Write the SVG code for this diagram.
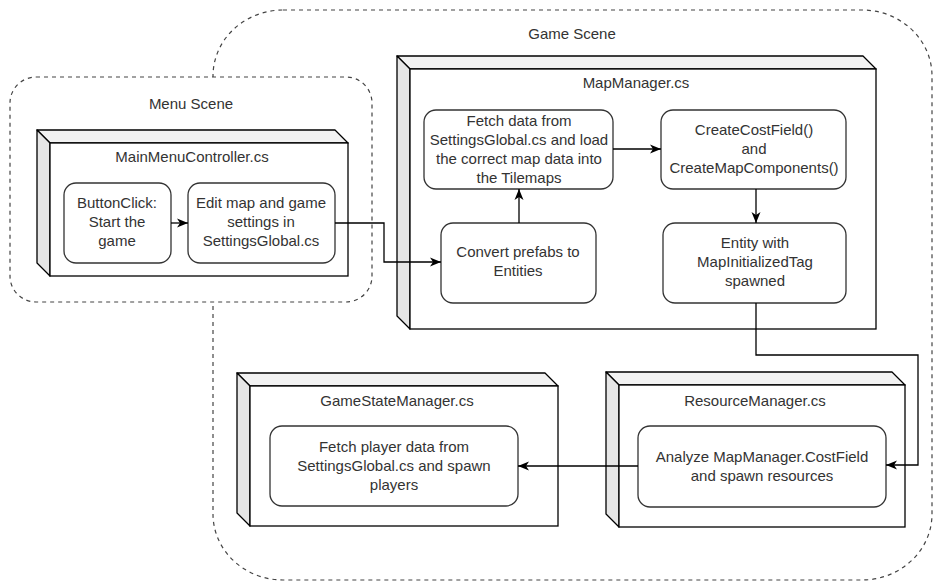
<svg xmlns="http://www.w3.org/2000/svg" width="934" height="583" viewBox="0 0 934 583">
  <defs>
    <marker id="arrow" markerUnits="userSpaceOnUse" markerWidth="12" markerHeight="10" refX="11" refY="5" orient="auto">
      <path d="M0,0.5 L11,5 L0,9.5 L3,5 Z" fill="#000"/>
    </marker>
  </defs>
  <style>
    text { font-family: "Liberation Sans", Arial, sans-serif; font-size: 15px; fill: #333; text-anchor: middle; }
    .scene { fill: #fff; stroke: #444; stroke-width: 1.2; stroke-dasharray: 4 4; }
    .top { fill: #f2f2f2; stroke: #000; stroke-width: 1.3; stroke-linejoin: round; }
    .side { fill: #e6e6e6; stroke: #000; stroke-width: 1.3; stroke-linejoin: round; }
    .front { fill: #fff; stroke: #000; stroke-width: 1.3; }
    .step { fill: #fff; stroke: #333; stroke-width: 1.3; }
    .edge { fill: none; stroke: #000; stroke-width: 1.3; marker-end: url(#arrow); }
  </style>

  <!-- Scene containers -->
  <g id="game-scene">
    <rect class="scene" x="213" y="10" width="719" height="570" rx="70" ry="66"/>
    <text x="572" y="39">Game Scene</text>
  </g>
  <g id="menu-scene">
    <rect class="scene" x="10" y="77" width="362" height="225" rx="26" ry="26"/>
    <text x="191" y="109">Menu Scene</text>
  </g>

  <!-- MainMenuController.cs -->
  <g id="main-menu-controller">
    <path class="top" d="M37,130 L335,130 L348,143 L50,143 Z"/>
    <path class="side" d="M37,130 L50,143 L50,276 L37,263 Z"/>
    <rect class="front" x="50" y="143" width="298" height="133"/>
    <text x="192" y="162">MainMenuController.cs</text>
  </g>
  <g id="button-click">
    <rect class="step" x="64" y="183" width="107" height="80" rx="12"/>
    <text x="117" y="208">ButtonClick:</text>
    <text x="117" y="227">Start the</text>
    <text x="117" y="246">game</text>
  </g>
  <g id="edit-settings">
    <rect class="step" x="188" y="183" width="147" height="80" rx="12"/>
    <text x="261" y="208">Edit map and game</text>
    <text x="261" y="227">settings in</text>
    <text x="261" y="246">SettingsGlobal.cs</text>
  </g>

  <!-- MapManager.cs -->
  <g id="map-manager">
    <path class="top" d="M397,56 L863,56 L876,69 L410,69 Z"/>
    <path class="side" d="M397,56 L410,69 L410,329 L397,316 Z"/>
    <rect class="front" x="410" y="69" width="466" height="260"/>
    <text x="636" y="88">MapManager.cs</text>
  </g>
  <g id="fetch-map-data">
    <rect class="step" x="424" y="110" width="189" height="79" rx="12"/>
    <text x="519" y="126">Fetch data from</text>
    <text x="519" y="145">SettingsGlobal.cs and load</text>
    <text x="519" y="164">the correct map data into</text>
    <text x="519" y="183">the Tilemaps</text>
  </g>
  <g id="create-fields">
    <rect class="step" x="661" y="110" width="185" height="79" rx="12"/>
    <text x="754" y="135">CreateCostField()</text>
    <text x="754" y="154">and</text>
    <text x="754" y="173">CreateMapComponents()</text>
  </g>
  <g id="convert-prefabs">
    <rect class="step" x="441" y="223" width="155" height="80" rx="12"/>
    <text x="518" y="257">Convert prefabs to</text>
    <text x="518" y="276">Entities</text>
  </g>
  <g id="entity-spawned">
    <rect class="step" x="663" y="223" width="183" height="80" rx="12"/>
    <text x="755" y="248">Entity with</text>
    <text x="755" y="267">MapInitializedTag</text>
    <text x="755" y="286">spawned</text>
  </g>

  <!-- ResourceManager.cs -->
  <g id="resource-manager">
    <path class="top" d="M606,372 L892,372 L905,385 L619,385 Z"/>
    <path class="side" d="M606,372 L619,385 L619,527 L606,514 Z"/>
    <rect class="front" x="619" y="385" width="286" height="142"/>
    <text x="755" y="406">ResourceManager.cs</text>
  </g>
  <g id="analyze-costfield">
    <rect class="step" x="638" y="426" width="248" height="81" rx="12"/>
    <text x="762" y="462">Analyze MapManager.CostField</text>
    <text x="762" y="481">and spawn resources</text>
  </g>

  <!-- GameStateManager.cs -->
  <g id="game-state-manager">
    <path class="top" d="M237,373 L545,373 L558,386 L250,386 Z"/>
    <path class="side" d="M237,373 L250,386 L250,526 L237,513 Z"/>
    <rect class="front" x="250" y="386" width="308" height="140"/>
    <text x="397" y="406">GameStateManager.cs</text>
  </g>
  <g id="spawn-players">
    <rect class="step" x="270" y="426" width="248" height="80" rx="12"/>
    <text x="394" y="452">Fetch player data from</text>
    <text x="394" y="471">SettingsGlobal.cs and spawn</text>
    <text x="394" y="490">players</text>
  </g>

  <!-- Connectors -->
  <g id="connectors">
    <path class="edge" d="M171,223 L188,223"/>
    <path class="edge" d="M335,223 L384,223 L384,262 L441,262"/>
    <path class="edge" d="M519,223 L519,189"/>
    <path class="edge" d="M613,149 L661,149"/>
    <path class="edge" d="M756,189 L756,223"/>
    <path class="edge" d="M756,303 L756,355 L918,355 L918,465 L886,465"/>
    <path class="edge" d="M638,466 L518,466"/>
  </g>
</svg>
